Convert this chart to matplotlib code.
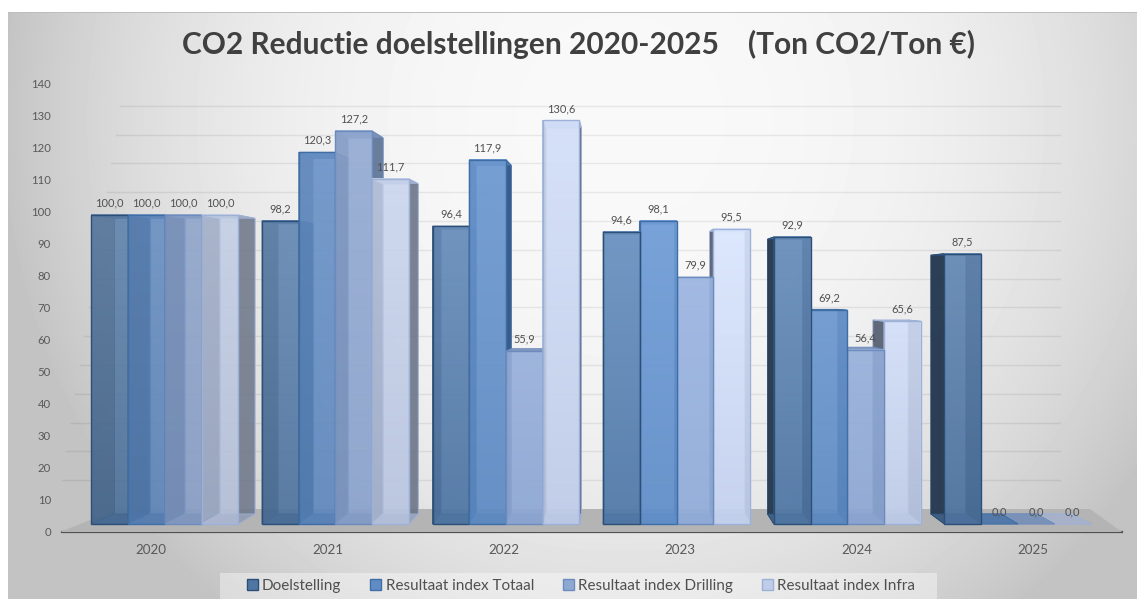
import numpy as np
import matplotlib
matplotlib.use("Agg")
import matplotlib.pyplot as plt
from matplotlib.patches import Polygon, Rectangle, Patch
from matplotlib.colors import LinearSegmentedColormap, to_rgb

plt.rcParams['font.family'] = ['Lato', 'DejaVu Sans']

TITLE = "CO2 Reductie doelstellingen 2020-2025    (Ton CO2/Ton €)"
years = ["2020", "2021", "2022", "2023", "2024", "2025"]
series_names = ["Doelstelling", "Resultaat index Totaal", "Resultaat index Drilling", "Resultaat index Infra"]
doelstelling = [100.0, 98.2, 96.4, 94.6, 92.9, 87.5]
totaal = [100.0, 120.3, 117.9, 98.1, 69.2, 0.0]
drilling = [100.0, 127.2, 55.9, 79.9, 56.4, 0.0]
infra = [100.0, 111.7, 130.6, 95.5, 65.6, 0.0]
series_values = [doelstelling, totaal, drilling, infra]
y_ticks = list(range(0, 150, 10))

# style
front_top = ['#6a90bd', '#6f9ad2', '#9ab2dc', '#d6e2fb']
front_bot = ['#4f76a3', '#5f8cc4', '#8ea8d4', '#c0cde9']
edge_cols = ['#2c4f78', '#3f6ea6', '#6d8cbd', '#9db1d8']
wall_cols = ['#26394f', '#305482', '#4e6486', '#5a6374']
group_gain = [0.93, 0.96, 1.0, 1.03, 1.0, 0.97]
front_alpha = [0.72, 0.78, 0.86, 0.88, 0.86, 0.86]
wall_alpha = [0.68, 0.74, 0.92, 0.95, 0.95, 0.95]

W, H = 1137, 599
fig = plt.figure(figsize=(W / 100, H / 100), dpi=100)

# page background
bg = fig.add_axes([0, 0, 1, 1], zorder=0)
yy, xx = np.mgrid[0:H, 0:W]
r = np.sqrt(((xx - 620) / 610.0) ** 2 + ((yy - 120) / 620.0) ** 2)
shade = 0.975 - 0.2 * np.minimum(r ** 2.5, 1.06)
shade[:, :8] = 1.0
shade[:12, :] = 1.0
shade[12, 8:] = 0.74
bg.imshow(shade, cmap='gray', vmin=0, vmax=1, aspect='auto', extent=[0, W, H, 0])
bg.axis('off')
fig.add_artist(Rectangle((220 / W, 0), 717 / W, 26 / H, transform=fig.transFigure,
                         facecolor='#ffffff', alpha=0.4, edgecolor='none', zorder=1))

# axis frame
L, R, T, B = 62, 1122, 70, 532
pos = [L / W, 1 - B / H, (R - L) / W, (B - T) / H]
ax_t = fig.add_axes(pos, zorder=2)
ax_t.patch.set_visible(False)
ax_t.set_xlim((L - 151) / 176.4, (R - 151) / 176.4)
ax_t.set_ylim(0, (B - T) / 3.2)
ax_t.set_xticks(range(len(years)), years)
ax_t.set_yticks(y_ticks, [str(v) for v in y_ticks])
ax_t.tick_params(axis='both', length=0, labelcolor='#595959')
ax_t.tick_params(axis='x', pad=9, labelsize=9.6)
ax_t.tick_params(axis='y', pad=8, labelsize=8.2)
for s in ['top', 'left', 'right']:
    ax_t.spines[s].set_visible(False)
ax_t.spines['bottom'].set_color('#505050')
ax_t.spines['bottom'].set_linewidth(1.6)
ax_t.spines['bottom'].set_zorder(50)

# bar axes: front plane of the 3D chart
ax = fig.add_axes(pos, zorder=3)
ax.patch.set_visible(False)
ax.axis('off')
X0, DX, Y0, SY = 164.8, 170.6, 524.0, 3.09
xlim = ((L - X0) / DX, (R - X0) / DX)
ylim = ((Y0 - B) / SY, (Y0 - T) / SY)
ax.set_xlim(xlim)
ax.set_ylim(ylim)
px_x = lambda p: (p - X0) / DX
px_y = lambda p: (Y0 - p) / SY

K = 0.957
VX, VY = px_x(627), px_y(290)
def back(x, y):
    return VX + (x - VX) * K, VY + (y - VY) * K

# floor and faint wall gridlines
z = 1
ax.add_patch(Polygon([(px_x(60), px_y(532)), (px_x(1122), px_y(532)),
                      (px_x(1090), px_y(509)), (px_x(118), px_y(509))],
                     facecolor='#b4b4b4', edgecolor='none', zorder=z, clip_on=False))
for v in y_ticks[1:]:
    wy = px_y(509 - 2.88 * v)
    ax.plot([px_x(120 - (140 - v) * 0.45), px_x(1060)], [wy, wy], color='black',
            alpha=0.07, lw=1, zorder=z)

BW = 36.7 / DX
n = len(series_values)

def tint(c, g):
    return tuple(min(1, ch * g) for ch in to_rgb(c))

def draw_bar(xl, v, i, gi, z):
    g = group_gain[gi]
    xr = xl + BW
    a, b = back(xl, 0), back(xr, 0)
    c, d = back(xr, v), back(xl, v)
    e = edge_cols[i]
    faces = [
        ([a, b, c, d], tint(front_bot[i], g), 0.55),
        ([(xl, 0), a, d, (xl, v)], wall_cols[i], wall_alpha[gi]),
        ([(xr, 0), b, c, (xr, v)], wall_cols[i], wall_alpha[gi]),
        ([(xl, 0), (xr, 0), b, a], tint(front_bot[i], g * 0.85), 0.9),
        ([(xl, v), (xr, v), c, d], tint(front_bot[i], g * 0.9), 0.95),
    ]
    for pts, col, al in faces:
        ax.add_patch(Polygon(pts, closed=True, facecolor=col, edgecolor=e, lw=0.6,
                             alpha=al, zorder=z, clip_on=False))
    if v > 0:
        cmap = LinearSegmentedColormap.from_list('f', [tint(front_bot[i], g), tint(front_top[i], g)])
        ax.imshow(np.linspace(1, 0, 64)[:, None], cmap=cmap, vmin=0, vmax=1, aspect='auto',
                  extent=[xl, xr, 0, v], alpha=front_alpha[gi], zorder=z + 0.1, interpolation='bilinear')
        ax.add_patch(Rectangle((xl, 0), BW, v, facecolor='none', edgecolor=e, lw=1.0,
                               zorder=z + 0.2, clip_on=False))

# paint from outer to inner so that neighbours nearer the vanishing point overlap
order = []
for gi in range(len(years)):
    for i in range(n):
        xl = gi + (i - n / 2) * BW
        order.append((abs(xl + BW / 2 - VX), gi, i, xl))
order.sort(reverse=True)
z = 5
for _, gi, i, xl in order:
    draw_bar(xl, series_values[i][gi], i, gi, z)
    z += 1
ax.set_xlim(xlim)
ax.set_ylim(ylim)

# data labels
for i, vals in enumerate(series_values):
    for gi, v in enumerate(vals):
        xc = gi + (i - n / 2 + 0.5) * BW
        ax.annotate(f"{v:.1f}".replace('.', ','), (xc, v), xytext=(0, 8.6), textcoords='offset points',
                    ha='center', va='center', fontsize=7.9, color='#505050', zorder=100,
                    annotation_clip=False)

fig.text(579 / W, 1 - 44 / H, TITLE, ha='center', va='center', fontsize=21.5, fontweight='bold',
         color='#404040', zorder=5)

handles = [Patch(facecolor=front_bot[i], edgecolor=edge_cols[i], lw=1) for i in range(n)]
fig.legend(handles, series_names, loc='center', bbox_to_anchor=(581 / W, 13 / H), ncol=4, frameon=False,
           fontsize=11, labelcolor='#505050', handlelength=0.72, handleheight=0.72, handletextpad=0.28,
           columnspacing=1.9, borderpad=0)

fig.savefig('out.png', dpi=100)
